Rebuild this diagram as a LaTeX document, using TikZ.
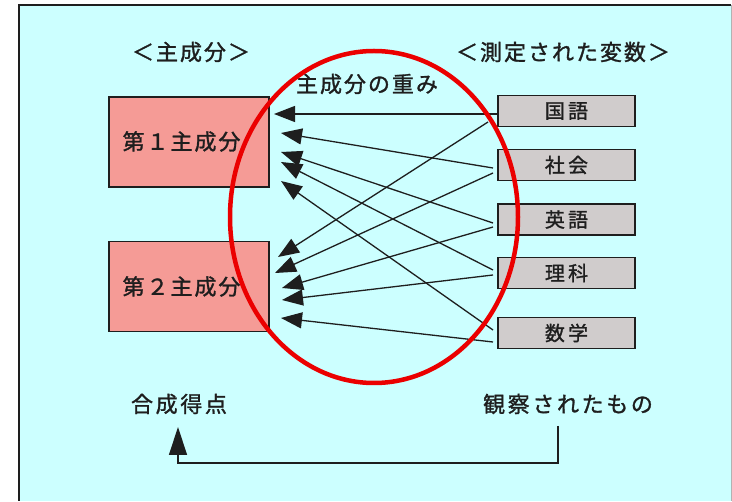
\documentclass[tikz,border=0pt]{standalone}
\usepackage{fontspec}
\newfontfamily\jp{Noto Sans CJK JP}[FakeBold=1.3, LetterSpace=9]
\newfontfamily\jpv{Noto Sans CJK JP}[FakeBold=1.3, LetterSpace=16]
\newfontfamily\jpb{Noto Sans CJK JP}[FakeBold=1.3, LetterSpace=12]
\usetikzlibrary{arrows.meta}
\definecolor{bgcyan}{RGB}{204,255,255}
\definecolor{salmon}{RGB}{245,155,150}
\definecolor{boxgrey}{RGB}{208,204,204}
\definecolor{ink}{RGB}{30,30,30}
\definecolor{ringred}{RGB}{235,0,0}
\tikzset{
  lbl/.style={font=\jp\fontsize{22}{24}\selectfont, text=ink, inner sep=0pt},
  lblb/.style={font=\jpb\fontsize{22}{24}\selectfont, text=ink, inner sep=0pt},
  compbox/.style={draw=ink, line width=1.6pt, fill=salmon, minimum width=160pt, minimum height=90pt, inner sep=0pt, font=\jp\fontsize{22}{24}\selectfont, text=ink},
  varbox/.style={draw=ink, line width=1.6pt, fill=boxgrey, minimum width=137pt, minimum height=31pt, inner sep=0pt, font=\jpv\fontsize{20}{22}\selectfont, text=ink},
  wt/.style={draw=ink, line width=1.3pt, -{Triangle[length=21pt,width=16pt]}},
}
\begin{document}
\begin{tikzpicture}[x=1pt,y=-1pt]
\useasboundingbox (0,0) rectangle (732,502);
\fill[white] (0,0) rectangle (732,502);
\fill[bgcyan] (19,5) rectangle (731,501);
\draw[ink, line width=1.5pt] (19,501) -- (19,5) -- (731,5);
\draw[black!30, line width=0.8pt] (731,5) -- (731,501);
% headers
\node[lbl] (hcomp) at (191,52) {＜主成分＞};
\node[lbl] (hvar) at (563,52) {＜測定された変数＞};
\node[lbl] (wlabel) at (367,84) {主成分の重み};
% component boxes
\node[compbox] (pc1) at (189,142) {\kern-15pt\raisebox{3pt}{第１主成分}};
\node[compbox] (pc2) at (189,286.5) {\kern-15pt第２主成分};
% variable boxes
\node[varbox] (kokugo) at (566.5,111) {国語};
\node[varbox] (shakai) at (566.5,165) {社会};
\node[varbox] (eigo) at (566.5,219.5) {英語};
\node[varbox] (rika) at (566.5,273) {理科};
\node[varbox] (sugaku) at (566.5,333) {数学};
% arrow tips (near components)
\coordinate (t1) at (274,114);
\coordinate (t2) at (281,133);
\coordinate (t3) at (281,152);
\coordinate (t4) at (281,162);
\coordinate (t5) at (281,181);
\coordinate (t6) at (278,257);
\coordinate (t7) at (275,273);
\coordinate (t8) at (282,288);
\coordinate (t9) at (282,300);
\coordinate (t10) at (281,318);
% start points (near variables)
\coordinate (s1) at (kokugo.west |- 0,114);
\coordinate (s6) at (488,122);
\coordinate (s2) at (493,168);
\coordinate (s7) at (493,173);
\coordinate (s3) at (493,223);
\coordinate (s8) at (493,227);
\coordinate (s4) at (493,270);
\coordinate (s9) at (493,275);
\coordinate (s5) at (493,330);
\coordinate (s10) at (493,342);
\draw[wt] (s1) -- (t1);
\draw[wt] (s2) -- (t2);
\draw[wt] (s3) -- (t3);
\draw[wt] (s4) -- (t4);
\draw[wt] (s5) -- (t5);
\draw[wt] (s6) -- (t6);
\draw[wt] (s7) -- (t7);
\draw[wt] (s8) -- (t8);
\draw[wt] (s9) -- (t9);
\draw[wt] (s10) -- (t10);
% red ring
\draw[ringred, line width=4.5pt] (374,217) ellipse [x radius=144, y radius=166];
% bottom
\node[lblb] (gosei) at (179,404) {合成得点};
\node[lblb] (kansatsu) at (568,404) {観察されたもの};
\coordinate (b1) at (558,426);
\coordinate (b2) at (178,427);
\draw[draw=ink, line width=1.3pt, -{Triangle[length=28pt,width=18pt]}] (b1) -- (558,463) -| (b2);
\end{tikzpicture}
\end{document}
